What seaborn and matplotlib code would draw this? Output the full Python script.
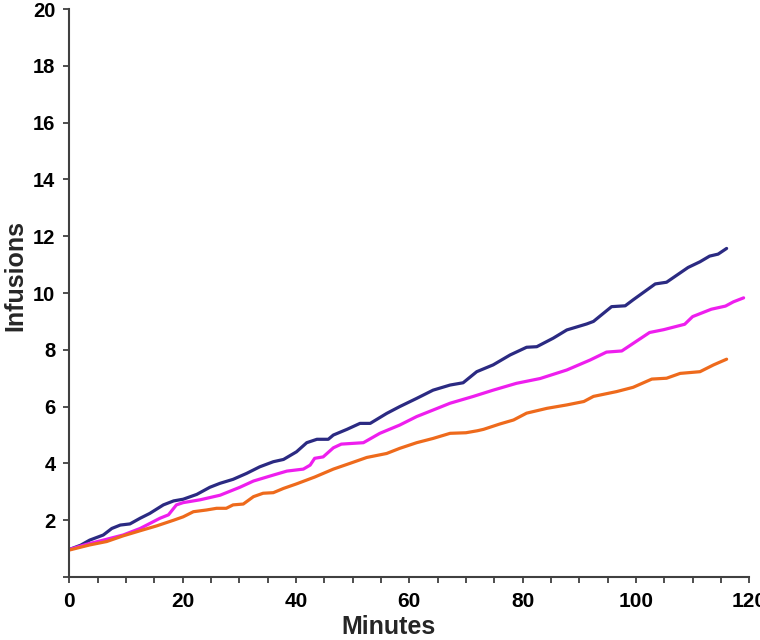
import pandas as pd
import seaborn as sns
import matplotlib.pyplot as plt

# --- data ---
blue_min = [0, 2, 3.6, 6, 7.5, 9, 10.7, 12.5, 14.2, 16.6, 18.4, 20.1, 22.5, 24.8, 26.6,
            28.9, 31.3, 33.6, 36, 37.8, 40.1, 41.9, 43.7, 45.7, 46.6, 49, 51.3, 53.1,
            56, 58.3, 61.3, 64.2, 67.2, 69.5, 71.9, 74.8, 77.8, 80.7, 82.5, 85.4, 87.8,
            91.3, 92.5, 95.7, 98.1, 99.5, 103.4, 105.4, 109.2, 111.3, 113, 114.5, 116]
blue_val = [0.97, 1.12, 1.30, 1.48, 1.71, 1.83, 1.87, 2.07, 2.24, 2.54, 2.68, 2.74, 2.91,
            3.16, 3.30, 3.44, 3.65, 3.88, 4.06, 4.14, 4.41, 4.73, 4.85, 4.85, 5.00, 5.20,
            5.41, 5.41, 5.76, 6.00, 6.29, 6.58, 6.76, 6.84, 7.23, 7.47, 7.82, 8.09, 8.11,
            8.41, 8.70, 8.91, 9.00, 9.52, 9.55, 9.76, 10.32, 10.38, 10.90, 11.10, 11.30,
            11.37, 11.57]

magenta_min = [0, 3, 6.6, 9.5, 12.5, 16, 17.5, 18.9, 20.1, 23.1, 26.6, 30.1, 32.5, 36,
               38.4, 41.3, 42.5, 43.3, 44.8, 46.6, 48, 51.9, 54.8, 58.3, 61.3, 64.2, 67.2,
               71.3, 74.8, 78.9, 83.1, 87.8, 91.9, 94.8, 97.5, 102.4, 104.9, 108.6, 110,
               113.3, 115.8, 117.2, 119]
magenta_val = [0.97, 1.15, 1.33, 1.48, 1.71, 2.07, 2.19, 2.54, 2.62, 2.72, 2.88, 3.16, 3.38,
               3.59, 3.73, 3.80, 3.94, 4.18, 4.23, 4.55, 4.68, 4.73, 5.06, 5.35, 5.65, 5.88,
               6.12, 6.36, 6.58, 6.82, 6.99, 7.29, 7.64, 7.92, 7.96, 8.61, 8.71, 8.90, 9.17,
               9.43, 9.54, 9.69, 9.83]

orange_min = [0, 3.6, 6.6, 9.5, 12.5, 15.4, 18.4, 20.1, 21.9, 24.2, 26, 27.7, 28.9, 30.7,
              32.5, 34.2, 36, 37.8, 40.1, 43.3, 46.6, 49.5, 52.5, 56, 58.3, 61.3, 64.2,
              67.2, 70, 72, 73.1, 76, 78.4, 80.7, 84.3, 87.8, 90.8, 92.5, 96.6, 99.5,
              102.8, 105.4, 107.8, 111.3, 113.7, 116]
orange_val = [0.95, 1.13, 1.25, 1.45, 1.63, 1.80, 2.00, 2.12, 2.30, 2.36, 2.42, 2.42, 2.54,
              2.57, 2.83, 2.95, 2.97, 3.12, 3.28, 3.52, 3.80, 4.00, 4.21, 4.35, 4.53, 4.73,
              4.88, 5.06, 5.08, 5.15, 5.20, 5.39, 5.53, 5.77, 5.94, 6.06, 6.18, 6.36, 6.53,
              6.68, 6.97, 7.00, 7.17, 7.23, 7.47, 7.67]

colors = {'blue': '#2B2A82', 'magenta': '#EE1EEE', 'orange': '#EE6A1C'}

df = pd.concat([
    pd.DataFrame({'Minutes': blue_min, 'Infusions': blue_val, 'group': 'blue'}),
    pd.DataFrame({'Minutes': magenta_min, 'Infusions': magenta_val, 'group': 'magenta'}),
    pd.DataFrame({'Minutes': orange_min, 'Infusions': orange_val, 'group': 'orange'}),
], ignore_index=True)

sns.set_style("ticks")
plt.rcParams['font.family'] = ['Liberation Sans', 'DejaVu Sans']

fig = plt.figure(figsize=(7.6, 6.4), dpi=100)
ax = fig.add_axes([0.0912, 0.0984, 0.8947, 0.8875])

sns.lineplot(data=df, x='Minutes', y='Infusions', hue='group', palette=colors,
             linewidth=2.3, legend=False, ax=ax, estimator=None, sort=False)

ax.set_xlim(0, 120)
ax.set_ylim(0, 20)
ax.set_xticks(range(0, 121, 20))
ax.set_xticks(range(0, 121, 5), minor=True)
ax.set_yticks(range(0, 21, 2))
ax.set_yticklabels([''] + [str(v) for v in range(2, 21, 2)])

axis_col = '#404040'
sns.despine(ax=ax)
for side in ['left', 'bottom']:
    ax.spines[side].set_color(axis_col)
    ax.spines[side].set_linewidth(1.5)
ax.tick_params(axis='both', which='both', direction='out', length=4, width=1.3,
               color=axis_col, labelcolor='black')
ax.tick_params(axis='x', which='major', labelsize=15, pad=7)
ax.tick_params(axis='y', which='major', labelsize=14.5, pad=6)
for lbl in ax.get_xticklabels() + ax.get_yticklabels():
    lbl.set_fontweight('bold')

ax.set_xlabel('Minutes', fontsize=18, fontweight='bold')
ax.set_ylabel('Infusions', fontsize=18, fontweight='bold')
ax.xaxis.set_label_coords(0.47, -0.066)
ax.yaxis.set_label_coords(-0.062, 0.53)

plt.savefig('out.png', dpi=100)
